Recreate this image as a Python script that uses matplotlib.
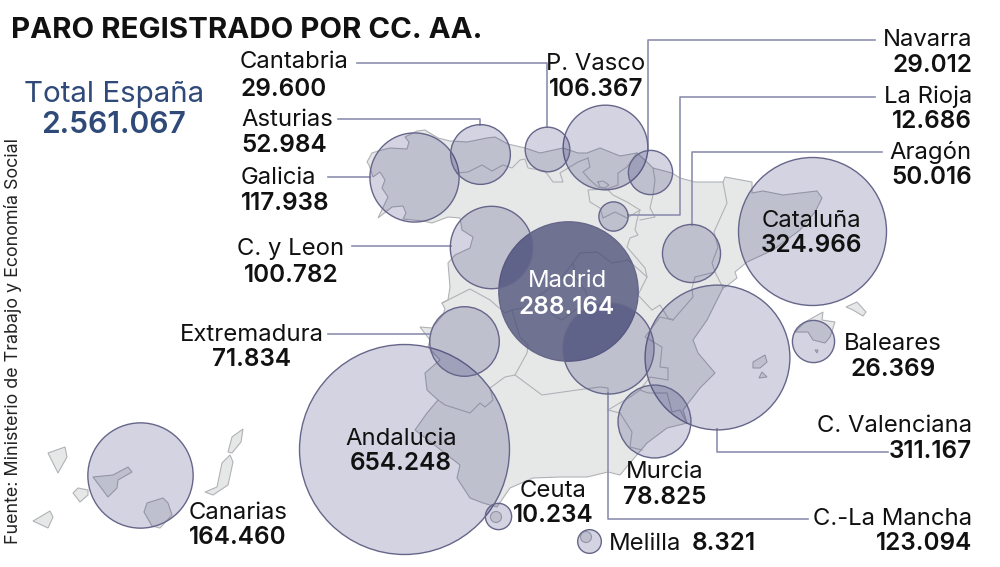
import matplotlib
matplotlib.use("Agg")
import matplotlib.pyplot as plt
from matplotlib.patches import Polygon, Circle

# datos
regiones = ["Andalucia", "Cataluña", "C. Valenciana", "Madrid", "Canarias", "C.-La Mancha",
            "Galicia", "P. Vasco", "C. y Leon", "Murcia", "Extremadura", "Asturias",
            "Aragón", "Cantabria", "Navarra", "Baleares", "La Rioja", "Ceuta", "Melilla"]
paro = [654248, 324966, 311167, 288164, 164460, 123094,
        117938, 106367, 100782, 78825, 71834, 52984,
        50016, 29600, 29012, 26369, 12686, 10234, 8321]
total = 2561067

titulo = "PARO REGISTRADO POR CC. AA."
fuente = "Fuente: Ministerio de Trabajo y Economía Social"

# centros de las burbujas sobre el mapa, en pixeles
centros = {"Andalucia": (404, 449), "Cataluña": (812, 231), "C. Valenciana": (717, 357),
           "Madrid": (568, 291), "Canarias": (140, 475), "C.-La Mancha": (608, 348),
           "Galicia": (414, 177), "P. Vasco": (605, 146.5), "C. y Leon": (491, 246.5),
           "Murcia": (654, 421), "Extremadura": (464, 341), "Asturias": (480, 154),
           "Aragón": (691, 253), "Cantabria": (547, 149), "Navarra": (650, 172),
           "Baleares": (813, 340.5), "La Rioja": (613, 215.5), "Ceuta": (497.5, 516),
           "Melilla": (589, 541)}

# x, y nombre, y valor, alineacion
etiquetas = {"Cantabria": (240, 62, 89, "left"), "Asturias": (241, 120, 146, "left"),
             "Galicia": (241, 178, 204, "left"), "C. y Leon": (291, 249, 275, "center"),
             "Extremadura": (252, 335, 360, "center"), "Andalucia": (401, 439, 464, "center"),
             "Madrid": (567, 281, 307, "center"), "Cataluña": (811, 221, 246, "center"),
             "P. Vasco": (596, 64, 89, "center"), "Navarra": (972, 40, 65, "right"),
             "La Rioja": (972, 97, 121, "right"), "Aragón": (972, 152, 177, "right"),
             "Baleares": (893, 344, 369, "center"), "C. Valenciana": (972, 426, 452, "right"),
             "C.-La Mancha": (972, 519, 544, "right"), "Murcia": (665, 472, 497, "center"),
             "Ceuta": (553, 491, 516, "center"), "Canarias": (238, 513, 538, "center")}

lineas_guia = [
    [(357, 63), (547, 63), (547, 127)],
    [(338, 119), (480, 119), (480, 125)],
    [(328, 177), (370, 177)],
    [(352, 246), (451, 246)],
    [(328, 334), (429, 334)],
    [(875, 40), (648, 40), (648, 151)],
    [(875, 97), (680, 97), (680, 215), (628, 215)],
    [(882, 152), (692, 152), (692, 225)],
    [(717, 429), (717, 452), (888, 452)],
    [(608, 393), (608, 519), (808, 519)],
]

# contorno del mapa
peninsula = [(378, 218), (388, 197), (382, 188), (385, 180), (380, 172), (373, 177), (369, 165),
             (367, 162), (372, 153), (378, 151), (390, 148), (407, 149), (409, 142), (405, 137),
             (417, 131), (425, 130), (438, 138), (450, 141), (467, 142), (487, 138), (495, 137),
             (508, 144), (525, 148), (540, 153), (563, 148), (578, 153), (587, 153), (600, 148),
             (620, 156), (637, 153), (648, 163), (653, 168), (672, 173), (680, 178), (695, 182),
             (723, 182), (725, 177), (752, 182), (752, 193), (763, 191), (783, 195), (817, 191),
             (822, 198), (815, 212), (800, 230), (773, 250), (747, 262), (735, 272), (737, 278),
             (728, 285), (723, 288), (707, 320), (693, 340), (698, 353), (715, 373), (700, 388),
             (683, 410), (687, 423), (667, 428), (647, 443), (630, 463), (620, 475), (608, 472),
             (587, 477), (560, 477), (533, 478), (510, 488), (497, 507), (483, 503), (470, 498),
             (457, 478), (460, 465), (437, 447), (415, 430), (427, 413), (438, 400), (427, 390),
             (425, 373), (440, 360), (428, 347), (430, 340), (420, 327), (432, 328), (443, 315),
             (445, 309), (442, 303), (448, 300), (450, 287), (448, 263), (455, 255), (470, 248),
             (473, 237), (462, 230), (460, 218), (448, 217), (440, 220), (432, 223), (423, 221),
             (403, 219), (406, 213), (403, 206), (392, 207)]

limites = [
    [(457, 173), (468, 172), (482, 165), (492, 171), (503, 165), (512, 168), (520, 160), (525, 159),
     (528, 168), (545, 171), (553, 182), (563, 182), (560, 173), (578, 162), (588, 158)],
    [(588, 158), (590, 167), (583, 172), (590, 180), (598, 187), (607, 189), (618, 185), (618, 173),
     (627, 167), (637, 153)],
    [(598, 182), (603, 181), (609, 185), (605, 188), (600, 187), (598, 182)],
    [(653, 168), (655, 180), (653, 195), (650, 208), (655, 217), (640, 220)],
    [(607, 189), (588, 190), (590, 202), (600, 208), (603, 218), (615, 212), (627, 218), (640, 210),
     (627, 202), (613, 195), (607, 189)],
    [(640, 210), (637, 220), (635, 230), (638, 235), (630, 238), (627, 247), (645, 268), (647, 277),
     (638, 295), (652, 310), (660, 305), (668, 318), (673, 320), (693, 297), (692, 288), (695, 277),
     (715, 272), (712, 263), (718, 247), (714, 232), (727, 203), (723, 182)],
    [(715, 272), (723, 288)],
    [(673, 320), (660, 317), (645, 337), (662, 347), (660, 367), (668, 368), (668, 380), (650, 377),
     (640, 390), (648, 393), (667, 393), (672, 412), (680, 410), (687, 423)],
    [(647, 277), (628, 260), (612, 263), (597, 252), (580, 253), (573, 263), (557, 283), (540, 295),
     (527, 307), (512, 310), (505, 313), (490, 300), (470, 289), (442, 303)],
    [(573, 263), (575, 277), (585, 290), (590, 302), (578, 308), (562, 320), (553, 315), (540, 295)],
    [(438, 400), (445, 405), (470, 413), (480, 403), (485, 407), (493, 400), (490, 388), (505, 377),
     (515, 375), (527, 353), (528, 345), (520, 337), (512, 310)],
    [(515, 375), (542, 395), (577, 390), (600, 387), (608, 388), (608, 410), (620, 413), (632, 432),
     (630, 447), (642, 450)],
    [(608, 410), (630, 397), (640, 390)],
]

islas = [
    [(795, 332), (805, 322), (823, 312), (822, 320), (835, 322), (830, 337), (825, 343), (813, 340), (808, 332)],
    [(846, 307), (857, 302), (866, 312), (863, 316), (853, 310)],
    [(753, 368), (753, 362), (765, 355), (767, 362), (760, 368)],
    [(759, 378), (762, 372), (767, 377)],
    [(815, 350), (818, 350), (817, 353)],
    [(48, 453), (65, 447), (67, 457), (58, 473)],
    [(73, 493), (78, 488), (88, 490), (88, 495), (80, 502)],
    [(33, 521), (50, 511), (53, 517), (48, 528)],
    [(93, 477), (113, 475), (128, 467), (132, 472), (118, 480), (117, 488), (108, 497)],
    [(144, 512), (147, 503), (163, 498), (168, 503), (172, 515), (160, 528), (152, 526)],
    [(205, 492), (217, 487), (222, 463), (230, 455), (233, 462), (228, 485), (213, 495)],
    [(228, 452), (232, 437), (243, 429), (241, 442), (232, 453)],
]

plazas = [(496, 517), (586, 537)]

color_mapa = "#e6e8e8"
color_limite = "#b0b2b7"
color_guia = "#8d8fb0"
color_burbuja = (35 / 255, 35 / 255, 105 / 255, 0.2)
color_madrid = (70 / 255, 75 / 255, 115 / 255, 0.74)
color_borde = "#66668a"
color_total = "#2f4a78"
fuente_txt = "Inter"
K = 0.1298  # pixeles de radio por raiz de parado


def miles(n):
    return f"{n:,}".replace(",", ".")


def dibuja_mapa(ax):
    ax.add_patch(Polygon(peninsula, closed=True, fc=color_mapa, ec=color_limite, lw=0.8, zorder=1))
    for isla in islas:
        ax.add_patch(Polygon(isla, closed=True, fc=color_mapa, ec=color_limite, lw=0.8, zorder=1))
    for lim in limites:
        ax.plot([p[0] for p in lim], [p[1] for p in lim], color=color_limite, lw=0.8, zorder=1.5)
    for p in plazas:
        ax.add_patch(Circle(p, 5.5, fc=color_mapa, ec=color_limite, lw=0.8, zorder=1))


def dibuja_burbujas(ax, dpi):
    for nombre, valor in zip(regiones, paro):
        radio = K * valor ** 0.5
        x, y = centros[nombre]
        color = color_madrid if nombre == "Madrid" else color_burbuja
        # s va en puntos al cuadrado
        ax.scatter([x], [y], s=(2 * radio * 72 / dpi) ** 2, color=[color],
                   edgecolors=color_borde, linewidths=1.0, zorder=3)


def dibuja_textos(ax):
    ax.text(11, 31, titulo, fontsize=21.2, fontweight="bold", family=fuente_txt, va="center", color="#111111")
    ax.text(114, 95, "Total España", fontsize=21.3, family=fuente_txt, ha="center", va="center", color=color_total)
    ax.text(114, 125, miles(total), fontsize=21.6, fontweight="semibold", family=fuente_txt, ha="center", va="center", color=color_total)
    ax.text(13, 341, fuente, fontsize=12.9, family=fuente_txt, rotation=90, ha="center", va="center", color="#222222")

    for nombre, valor in zip(regiones, paro):
        if nombre not in etiquetas:
            continue
        x, y1, y2, al = etiquetas[nombre]
        color = "white" if nombre == "Madrid" else "#111111"
        ax.text(x, y1, nombre, fontsize=17.2, family=fuente_txt, ha=al, va="center", color=color, zorder=5)
        ax.text(x, y2, miles(valor), fontsize=17.5, fontweight="semibold", family=fuente_txt, ha=al, va="center", color=color, zorder=5)

    ax.text(609, 544, "Melilla", fontsize=17.2, family=fuente_txt, va="center", color="#111111")
    ax.text(756, 544, miles(paro[regiones.index("Melilla")]), fontsize=17.5, fontweight="semibold",
            family=fuente_txt, ha="right", va="center", color="#111111")


def main():
    dpi = 100
    fig = plt.figure(figsize=(10, 5.67), dpi=dpi)
    ax = fig.add_axes([0, 0, 1, 1])
    ax.set_xlim(0, 1000)
    ax.set_ylim(567, 0)
    ax.axis("off")

    dibuja_mapa(ax)
    for linea in lineas_guia:
        ax.plot([p[0] for p in linea], [p[1] for p in linea], color=color_guia, lw=1.2, zorder=2)
    dibuja_burbujas(ax, dpi)
    dibuja_textos(ax)

    fig.savefig("out.png", dpi=dpi)


if __name__ == "__main__":
    main()
